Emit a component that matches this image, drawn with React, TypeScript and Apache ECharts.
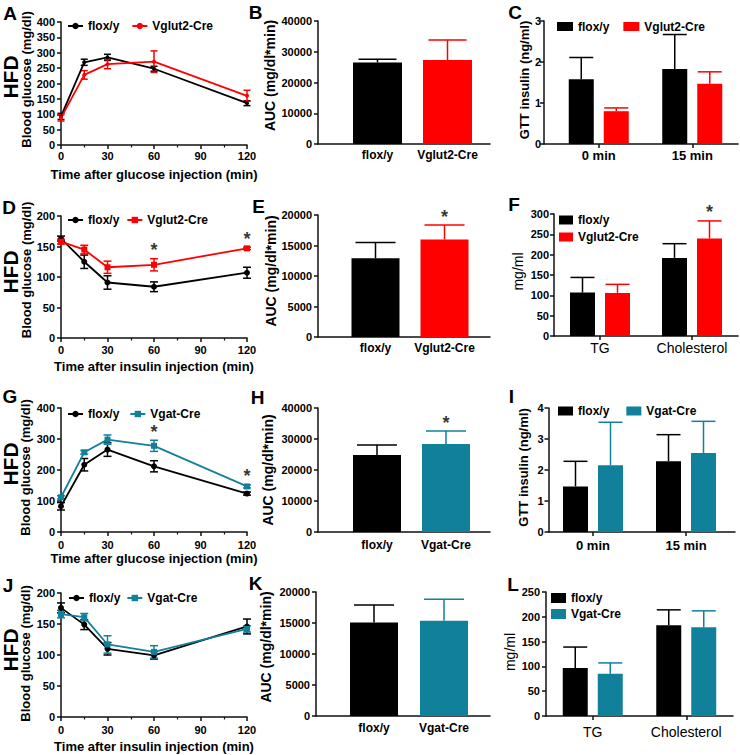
import React, { useEffect, useRef } from 'react';
import * as echarts from 'echarts';

const FONT = '"Liberation Sans", Arial, Helvetica, sans-serif';
const INK = '#111111';
const BLACK = '#000000';
const RED = '#ff0000';
const TEAL = '#11819b';

// ---------------- data ----------------
const times = [0, 15, 30, 60, 120];

// A: GTT, Vglut2 cohort
const gttA_flox = [93, 269, 285, 248, 136];
const gttA_floxErr = [10, 10, 10, 8, 8];
const gttA_cre = [88, 228, 263, 271, 160];
const gttA_creErr = [10, 14, 15, 35, 18];

// B: GTT AUC, Vglut2 cohort
const aucCatsVglut = ['flox/y', 'Vglut2-Cre'];
const aucB = [26500, 27300];
const aucB_err = [1100, 6500];

// C: GTT insulin, Vglut2 cohort
const insulinCats = ['0 min', '15 min'];
const insC_flox = [1.58, 1.83];
const insC_floxErr = [0.53, 0.84];
const insC_cre = [0.8, 1.47];
const insC_creErr = [0.08, 0.29];

// D: ITT, Vglut2 cohort
const ittD_flox = [163, 125, 91, 84, 107];
const ittD_floxErr = [4, 11, 11, 8, 9];
const ittD_cre = [158, 145, 116, 120, 147];
const ittD_creErr = [4, 7, 10, 10, 2];
const ittD_sig = [false, false, false, true, true];

// E: ITT AUC, Vglut2 cohort
const aucE = [12900, 16000];
const aucE_err = [2600, 2360];
const aucE_sig = [false, true];

// F: lipids, Vglut2 cohort
const lipidCats = ['TG', 'Cholesterol'];
const lipF_flox = [107, 192];
const lipF_floxErr = [37, 35];
const lipF_cre = [106, 240];
const lipF_creErr = [21, 43];
const lipF_sig = [false, true];

// G: GTT, Vgat cohort
const gttG_flox = [83, 217, 266, 212, 124];
const gttG_floxErr = [12, 20, 22, 18, 5];
const gttG_cre = [112, 257, 298, 278, 147];
const gttG_creErr = [5, 6, 15, 18, 5];
const gttG_sig = [false, false, false, true, true];

// H: GTT AUC, Vgat cohort
const aucCatsVgat = ['flox/y', 'Vgat-Cre'];
const aucH = [24840, 28390];
const aucH_err = [3230, 4190];
const aucH_sig = [false, true];

// I: GTT insulin, Vgat cohort
const insI_flox = [1.47, 2.28];
const insI_floxErr = [0.81, 0.86];
const insI_cre = [2.15, 2.55];
const insI_creErr = [1.39, 1.02];

// J: ITT, Vgat cohort
const ittJ_flox = [176, 149, 110, 99.5, 146];
const ittJ_floxErr = [8, 8, 10, 6, 12];
const ittJ_cre = [166, 161, 117, 105, 142];
const ittJ_creErr = [6, 6, 14, 10, 5];

// K: ITT AUC, Vgat cohort
const aucK = [15100, 15370];
const aucK_err = [2800, 3450];

// L: lipids, Vgat cohort
const lipL_flox = [97, 183];
const lipL_floxErr = [42, 31];
const lipL_cre = [85, 179];
const lipL_creErr = [22, 33];

// ---------------- helpers ----------------
const axisLineS = { show: true, onZero: false, lineStyle: { color: INK, width: 1.5 } };
const tickS = (len = 4) => ({ show: true, length: len, lineStyle: { color: INK, width: 1.5 } });
const tickLabel = (size = 11, margin = 6) => ({
  fontFamily: FONT, fontWeight: 'bold', fontSize: size, color: '#000', margin,
  formatter: (v: number) => String(v),
});
const nameFmt = (n: string) => n.split('|')[1];

const errorBars = (colors: string[] | string, offset: number, capHalf: number, both: boolean) =>
  (params: any, api: any) => {
    const x = api.value(0);
    const m = api.value(1);
    const e = api.value(2);
    const hi = api.coord([x, m + e]);
    const lo = api.coord([x, both ? m - e : m]);
    const c = Array.isArray(colors) ? colors[params.dataIndex] : colors;
    const cx = hi[0] + offset;
    const st = { stroke: c, lineWidth: 1.5 };
    const kids: any[] = [
      { type: 'line', shape: { x1: cx, y1: hi[1], x2: cx, y2: lo[1] }, style: st },
      { type: 'line', shape: { x1: cx - capHalf, y1: hi[1], x2: cx + capHalf, y2: hi[1] }, style: st },
    ];
    if (both) kids.push({ type: 'line', shape: { x1: cx - capHalf, y1: lo[1], x2: cx + capHalf, y2: lo[1] }, style: st });
    return { type: 'group', children: kids };
  };

function buildOption() {
  const grids: any[] = [];
  const xAxes: any[] = [];
  const yAxes: any[] = [];
  const series: any[] = [];
  const legends: any[] = [];
  const graphics: any[] = [];

  const starLabel = (dx = 0) => ({
    show: true, formatter: '*', position: 'top', distance: -1, offset: [dx, 0],
    fontFamily: FONT, fontWeight: 'bold', fontSize: 18, color: '#000',
  });

  function linePanel(o: any) {
    const gi = grids.length;
    grids.push({ left: o.left, top: o.top, width: o.width, height: o.height });
    xAxes.push({
      gridIndex: gi, type: 'value', min: 0, max: 120, interval: 30,
      axisLine: axisLineS, axisTick: tickS(4),
      minorTick: { show: true, splitNumber: 2, length: 2.5, lineStyle: { color: INK, width: 1.2 } },
      splitLine: { show: false }, minorSplitLine: { show: false },
      axisLabel: tickLabel(11, o.xLabelMargin),
      name: o.xTitle, nameLocation: 'middle', nameGap: o.xGap,
      nameTextStyle: { fontFamily: FONT, fontWeight: 'bold', fontSize: 13, color: '#000' },
    });
    yAxes.push({
      gridIndex: gi, type: 'value', min: 0, max: o.ymax, interval: o.yint,
      axisLine: axisLineS, axisTick: tickS(4), splitLine: { show: false },
      axisLabel: tickLabel(11, 6),
      name: 'Blood glucose (mg/dl)', nameLocation: 'middle', nameGap: o.yGap,
      nameTextStyle: {
        fontFamily: FONT, fontWeight: 'bold', fontSize: 13, color: '#000',
        padding: [0, 0, 0, 2 * o.yShift],
      },
    });
    const xi = xAxes.length - 1;
    const yi = yAxes.length - 1;
    const names: string[] = [];
    o.s.forEach((s: any, k: number) => {
      const nm = `${o.id}|${s.label}`;
      names.push(nm);
      series.push({
        type: 'custom', name: `${o.id}|err${k}`, xAxisIndex: xi, yAxisIndex: yi, silent: true, z: 2,
        data: times.map((t, i) => [t, s.vals[i], s.errs[i]]),
        renderItem: errorBars(s.color, 0, o.cap, true),
      });
      series.push({
        type: 'line', name: nm, xAxisIndex: xi, yAxisIndex: yi, z: 3,
        data: times.map((t, i) => [t, s.vals[i]]),
        symbol: s.symbol, symbolSize: s.size,
        lineStyle: { color: s.color, width: 1.8 }, itemStyle: { color: s.color },
      });
    });
    if (o.sig) {
      const s = o.s[o.sig.series];
      series.push({
        type: 'scatter', name: `${o.id}|sig`, xAxisIndex: xi, yAxisIndex: yi, silent: true, z: 4,
        symbolSize: 1, itemStyle: { color: 'rgba(0,0,0,0)' },
        data: times.map((t, i) => [t, s.vals[i] + s.errs[i]]).filter((_, i) => o.sig.flags[i]),
        label: starLabel(0),
      });
    }
    legends.push({
      left: o.legend.left, top: o.legend.top, padding: 0, selectedMode: false,
      itemWidth: 15, itemHeight: 8, itemGap: o.legend.gap, data: names, formatter: nameFmt,
      textStyle: { fontFamily: FONT, fontWeight: 'bold', fontSize: 12, color: '#000' },
    });
    graphics.push({
      type: 'text', x: 10, y: o.hfdY, rotation: Math.PI / 2,
      style: { text: 'HFD', fontFamily: FONT, fontWeight: 'bold', fontSize: 21, fill: '#000', align: 'center', verticalAlign: 'middle' },
    });
  }

  function barPanel(o: any) {
    // frame grid: carries the x-axis baseline from the y-axis to the right end
    const fi = grids.length;
    grids.push({ left: o.axisX, top: o.top, width: o.frameRight - o.axisX, height: o.height });
    xAxes.push({
      gridIndex: fi, type: 'value', min: 0, max: 1, axisLine: axisLineS,
      axisTick: { show: false }, axisLabel: { show: false }, splitLine: { show: false },
    });
    yAxes.push({ gridIndex: fi, type: 'value', min: 0, max: 1, show: false });

    const gi = grids.length;
    grids.push({ left: o.barsLeft, top: o.top, width: o.barsWidth, height: o.height });
    xAxes.push({
      gridIndex: gi, type: 'category', data: o.cats,
      axisLine: { show: false },
      axisTick: o.catTicks ? { show: true, alignWithLabel: true, length: 4, lineStyle: { color: INK, width: 1.5 } } : { show: false },
      axisLabel: { interval: 0, fontFamily: FONT, fontWeight: o.catWeight, fontSize: o.catSize, color: '#000', margin: o.catMargin },
    });
    yAxes.push({
      gridIndex: gi, type: 'value', min: 0, max: o.ymax, interval: o.yint,
      offset: o.barsLeft - o.axisX,
      axisLine: axisLineS, axisTick: tickS(4), splitLine: { show: false },
      axisLabel: tickLabel(11, o.yLabelMargin ?? 6),
      name: o.yTitle, nameLocation: 'middle', nameGap: o.yGap,
      nameTextStyle: {
        fontFamily: FONT, fontWeight: o.yTitleWeight ?? 'bold', fontSize: o.yTitleSize ?? 13, color: '#000',
        padding: [0, 0, 0, 2 * o.yShift],
      },
    });
    const xi = xAxes.length - 1;
    const yi = yAxes.length - 1;
    const n = o.groups.length;
    const names: string[] = [];
    o.groups.forEach((g: any, k: number) => {
      const nm = `${o.id}|${g.label}`;
      names.push(nm);
      const off = n === 1 ? 0 : (k === 0 ? -1 : 1) * (o.barWidth + o.gapPx) / 2;
      const single = !Array.isArray(g.color);
      series.push({
        type: 'bar', name: nm, xAxisIndex: xi, yAxisIndex: yi, z: 2,
        barWidth: o.barWidth, barGap: `${(o.gapPx / o.barWidth) * 100}%`,
        itemStyle: single ? { color: g.color } : undefined,
        data: g.vals.map((v: number, i: number) => (single ? v : { value: v, itemStyle: { color: g.color[i] } })),
      });
      series.push({
        type: 'custom', name: `${o.id}|err${k}`, xAxisIndex: xi, yAxisIndex: yi, silent: true, z: 3,
        data: g.vals.map((v: number, i: number) => [i, v, g.errs[i]]),
        renderItem: errorBars(g.color, off, o.cap, false),
      });
      if (g.sig) {
        series.push({
          type: 'scatter', name: `${o.id}|sig${k}`, xAxisIndex: xi, yAxisIndex: yi, silent: true, z: 4,
          symbolSize: 1, itemStyle: { color: 'rgba(0,0,0,0)' },
          data: g.vals.map((v: number, i: number) => [i, v + g.errs[i]]).filter((_: any, i: number) => g.sig[i]),
          label: starLabel(off),
        });
      }
    });
    if (o.legend) {
      legends.push({
        left: o.legend.left, top: o.legend.top, orient: o.legend.orient, padding: 0, selectedMode: false,
        icon: 'rect', itemWidth: o.legend.w, itemHeight: o.legend.h, itemGap: o.legend.gap,
        data: names, formatter: nameFmt,
        textStyle: { fontFamily: FONT, fontWeight: 'bold', fontSize: 12, color: '#000' },
      });
    }
  }

  // ----- Row 1 -----
  linePanel({
    id: 'A', left: 61, top: 22, width: 186, height: 123, ymax: 400, yint: 50, yGap: 28, yShift: 4,
    xTitle: 'Time after glucose injection (min)', xGap: 23, xLabelMargin: 5, cap: 3.5, hfdY: 77,
    s: [
      { label: 'flox/y', vals: gttA_flox, errs: gttA_floxErr, color: BLACK, symbol: 'circle', size: 4 },
      { label: 'Vglut2-Cre', vals: gttA_cre, errs: gttA_creErr, color: RED, symbol: 'circle', size: 4 },
    ],
    legend: { left: 67, top: 20, gap: 12 },
  });
  barPanel({
    id: 'B', axisX: 318, barsLeft: 342.5, barsWidth: 140, frameRight: 490, top: 21, height: 123,
    ymax: 40000, yint: 10000, yTitle: 'AUC (mg/dl*min)', yGap: 41, yShift: 7, yTitleSize: 14,
    cats: aucCatsVglut, catTicks: false, catWeight: 'bold', catSize: 12, catMargin: 5,
    barWidth: 49, gapPx: 0, cap: 19,
    groups: [{ label: 'AUC', vals: aucB, errs: aucB_err, color: [BLACK, RED] }],
  });
  barPanel({
    id: 'C', axisX: 544, barsLeft: 552, barsWidth: 187, frameRight: 738, top: 21, height: 123,
    ymax: 3, yint: 1, yTitle: 'GTT insulin (ng/ml)', yGap: 9, yShift: 2.5, yLabelMargin: 3,
    cats: insulinCats, catTicks: true, catWeight: 'bold', catSize: 13, catMargin: 4.5,
    barWidth: 25, gapPx: 10, cap: 12,
    groups: [
      { label: 'flox/y', vals: insC_flox, errs: insC_floxErr, color: BLACK },
      { label: 'Vglut2-Cre', vals: insC_cre, errs: insC_creErr, color: RED },
    ],
    legend: { left: 557, top: 20.5, orient: 'horizontal', w: 16, h: 9, gap: 14 },
  });

  // ----- Row 2 -----
  linePanel({
    id: 'D', left: 61, top: 216, width: 186, height: 122, ymax: 200, yint: 50, yGap: 28, yShift: 7,
    xTitle: 'Time after insulin injection (min)', xGap: 22, xLabelMargin: 6, cap: 4, hfdY: 272,
    s: [
      { label: 'flox/y', vals: ittD_flox, errs: ittD_floxErr, color: BLACK, symbol: 'circle', size: 6 },
      { label: 'Vglut2-Cre', vals: ittD_cre, errs: ittD_creErr, color: RED, symbol: 'rect', size: 6 },
    ],
    sig: { series: 1, flags: ittD_sig },
    legend: { left: 67, top: 214, gap: 7 },
  });
  barPanel({
    id: 'E', axisX: 318, barsLeft: 341, barsWidth: 138, frameRight: 490, top: 215, height: 122,
    ymax: 20000, yint: 5000, yTitle: 'AUC (mg/dl*min)', yGap: 38, yShift: 5, yTitleSize: 14,
    cats: aucCatsVglut, catTicks: false, catWeight: 'bold', catSize: 12, catMargin: 5,
    barWidth: 48, gapPx: 0, cap: 20,
    groups: [{ label: 'AUC', vals: aucE, errs: aucE_err, color: [BLACK, RED], sig: aucE_sig }],
  });
  barPanel({
    id: 'F', axisX: 554, barsLeft: 554, barsWidth: 184, frameRight: 738, top: 214, height: 122,
    ymax: 300, yint: 50, yTitle: 'mg/ml', yGap: 29, yShift: 3.5, yTitleSize: 14, yTitleWeight: 'normal', yLabelMargin: 5,
    cats: lipidCats, catTicks: true, catWeight: 'normal', catSize: 14, catMargin: 5,
    barWidth: 25, gapPx: 10, cap: 12,
    groups: [
      { label: 'flox/y', vals: lipF_flox, errs: lipF_floxErr, color: BLACK },
      { label: 'Vglut2-Cre', vals: lipF_cre, errs: lipF_creErr, color: RED, sig: lipF_sig },
    ],
    legend: { left: 559, top: 214, orient: 'vertical', w: 14, h: 9, gap: 5 },
  });

  // ----- Row 3 -----
  linePanel({
    id: 'G', left: 61, top: 408, width: 186, height: 124, ymax: 400, yint: 100, yGap: 29, yShift: 2.5,
    xTitle: 'Time after glucose injection (min)', xGap: 19.5, xLabelMargin: 7.5, cap: 4, hfdY: 464,
    s: [
      { label: 'flox/y', vals: gttG_flox, errs: gttG_floxErr, color: BLACK, symbol: 'circle', size: 6 },
      { label: 'Vgat-Cre', vals: gttG_cre, errs: gttG_creErr, color: TEAL, symbol: 'rect', size: 6 },
    ],
    sig: { series: 1, flags: gttG_sig },
    legend: { left: 67, top: 408, gap: 10 },
  });
  barPanel({
    id: 'H', axisX: 318, barsLeft: 342.5, barsWidth: 138, frameRight: 490, top: 408, height: 124,
    ymax: 40000, yint: 10000, yTitle: 'AUC (mg/dl*min)', yGap: 43, yShift: 0, yTitleSize: 14,
    cats: aucCatsVgat, catTicks: false, catWeight: 'bold', catSize: 12, catMargin: 7,
    barWidth: 48, gapPx: 0, cap: 20,
    groups: [{ label: 'AUC', vals: aucH, errs: aucH_err, color: [BLACK, TEAL], sig: aucH_sig }],
  });
  barPanel({
    id: 'I', axisX: 548.5, barsLeft: 546.5, barsWidth: 186, frameRight: 735, top: 408, height: 124,
    ymax: 4, yint: 1, yTitle: 'GTT insulin (ng/ml)', yGap: 18.5, yShift: 2.5, yLabelMargin: 5,
    cats: insulinCats, catTicks: true, catWeight: 'bold', catSize: 13, catMargin: 6.5,
    barWidth: 25, gapPx: 10, cap: 12,
    groups: [
      { label: 'flox/y', vals: insI_flox, errs: insI_floxErr, color: BLACK },
      { label: 'Vgat-Cre', vals: insI_cre, errs: insI_creErr, color: TEAL },
    ],
    legend: { left: 558, top: 405, orient: 'horizontal', w: 15, h: 9, gap: 17 },
  });

  // ----- Row 4 -----
  linePanel({
    id: 'J', left: 61, top: 593, width: 186, height: 124, ymax: 200, yint: 50, yGap: 29, yShift: 1.5,
    xTitle: 'Time after insulin injection (min)', xGap: 23, xLabelMargin: 7.5, cap: 4, hfdY: 650,
    s: [
      { label: 'flox/y', vals: ittJ_flox, errs: ittJ_floxErr, color: BLACK, symbol: 'circle', size: 6 },
      { label: 'Vgat-Cre', vals: ittJ_cre, errs: ittJ_creErr, color: TEAL, symbol: 'rect', size: 6 },
    ],
    legend: { left: 68, top: 592, gap: 6 },
  });
  barPanel({
    id: 'K', axisX: 316, barsLeft: 339, barsWidth: 140, frameRight: 490, top: 592, height: 124,
    ymax: 20000, yint: 5000, yTitle: 'AUC (mg/dl*min)', yGap: 43, yShift: 7, yTitleSize: 14,
    cats: aucCatsVgat, catTicks: false, catWeight: 'bold', catSize: 12, catMargin: 6,
    barWidth: 48, gapPx: 0, cap: 20,
    groups: [{ label: 'AUC', vals: aucK, errs: aucK_err, color: [BLACK, TEAL] }],
  });
  barPanel({
    id: 'L', axisX: 546, barsLeft: 546, barsWidth: 187, frameRight: 733, top: 592, height: 124,
    ymax: 250, yint: 50, yTitle: 'mg/ml', yGap: 29, yShift: 2, yTitleSize: 14, yTitleWeight: 'normal',
    cats: lipidCats, catTicks: true, catWeight: 'normal', catSize: 14, catMargin: 9,
    barWidth: 25, gapPx: 10, cap: 12,
    groups: [
      { label: 'flox/y', vals: lipL_flox, errs: lipL_floxErr, color: BLACK },
      { label: 'Vgat-Cre', vals: lipL_cre, errs: lipL_creErr, color: TEAL },
    ],
    legend: { left: 551, top: 592, orient: 'vertical', w: 15, h: 10, gap: 4 },
  });

  // panel letters
  const letters: [string, number, number][] = [
    ['A', 10, 13.5], ['B', 255.5, 12.5], ['C', 515, 12.5],
    ['D', 9, 207.5], ['E', 258.5, 206.5], ['F', 514, 204],
    ['G', 10, 396.5], ['H', 257.5, 397.5], ['I', 511.5, 396.5],
    ['J', 8, 585], ['K', 255.5, 583.5], ['L', 513, 584],
  ];
  letters.forEach(([t, x, y]) => {
    graphics.push({
      type: 'text', x, y,
      style: { text: t, fontFamily: FONT, fontWeight: 'bold', fontSize: 19, fill: '#000', align: 'center', verticalAlign: 'middle' },
    });
  });

  return {
    animation: false,
    backgroundColor: '#ffffff',
    textStyle: { fontFamily: FONT },
    grid: grids,
    xAxis: xAxes,
    yAxis: yAxes,
    legend: legends,
    series,
    graphic: graphics,
  };
}

export default function App() {
  const ref = useRef<HTMLDivElement>(null);
  useEffect(() => {
    document.body.style.margin = '0';
    if (!ref.current) return;
    const chart = echarts.init(ref.current, null, { renderer: 'svg' });
    chart.setOption(buildOption() as any);
    return () => chart.dispose();
  }, []);
  return <div ref={ref} style={{ width: 740, height: 755 }} />;
}
